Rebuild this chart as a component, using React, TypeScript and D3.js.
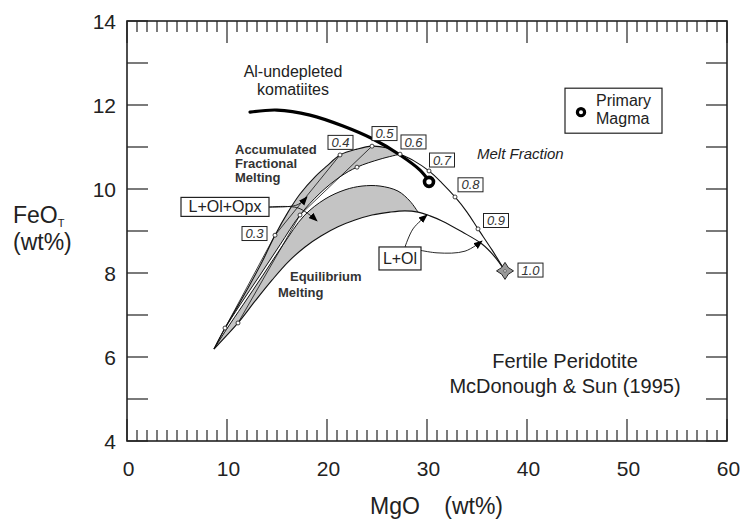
import React from "react";
import * as d3 from "d3";

// FeO(T) vs MgO melting diagram for fertile peridotite (McDonough & Sun 1995)

type Pt = [number, number];

// accumulated fractional melting: outer curve (also the labelled melt-fraction curve)
const fractionalOuter: Pt[] = [
  [8.7, 6.19], [9.8, 6.69], [10.9, 7.14], [12.0, 7.6], [13.5, 8.26], [14.8, 8.9],
  [16.1, 9.45], [17.3, 9.88], [18.8, 10.29], [20.0, 10.55], [21.3, 10.81],
  [23.0, 10.95], [24.5, 11.02], [25.9, 10.98], [27.3, 10.83], [28.7, 10.67],
  [30.2, 10.43], [31.5, 10.14], [32.8, 9.81], [34.0, 9.45], [35.1, 9.05],
  [36.5, 8.55], [37.8, 8.05],
];
// accumulated fractional melting: inner edge of the grey band
const fractionalInner: Pt[] = [
  [8.7, 6.19], [9.7, 6.64], [11.3, 7.24], [13.3, 7.95], [15.3, 8.67], [17.3, 9.38],
  [19.3, 9.9], [21.3, 10.29], [23.0, 10.52], [25.3, 10.71], [27.3, 10.83],
];
// equilibrium melting band
const equilibriumUpper: Pt[] = [
  [8.7, 6.19], [9.9, 6.64], [11.6, 7.24], [13.6, 7.95], [15.6, 8.67], [17.7, 9.36],
  [19.8, 9.76], [21.8, 9.98], [23.5, 10.07], [25.3, 10.07], [27.1, 9.95],
  [28.3, 9.71], [29.1, 9.45],
];
const equilibriumLower: Pt[] = [
  [8.7, 6.19], [11.1, 6.81], [12.8, 7.33], [14.5, 7.83], [16.1, 8.26], [17.8, 8.62],
  [19.4, 8.88], [21.1, 9.1], [22.8, 9.26], [24.5, 9.38], [26.3, 9.45], [27.8, 9.48],
  [29.1, 9.45], [30.3, 9.36], [31.5, 9.24], [33.5, 8.98], [35.5, 8.69], [36.8, 8.38],
  [37.8, 8.05],
];
// Al-undepleted komatiite trend
const komatiite: Pt[] = [
  [12.3, 11.83], [15.0, 11.88], [18.3, 11.76], [21.6, 11.5], [24.6, 11.19],
  [27.3, 10.81], [29.3, 10.45], [30.2, 10.19],
];
const primaryMagma: Pt = [30.2, 10.17];
const peridotite: Pt = [37.8, 8.05];

// melt fraction points and their boxed labels
const fractionLabels = ["0.3", "0.4", "0.5", "0.6", "0.7", "0.8", "0.9", "1.0"];
const fractionMgO = [14.8, 21.3, 24.5, 27.3, 30.2, 32.8, 35.1, 37.8];
const fractionFeO = [8.9, 10.81, 11.02, 10.83, 10.43, 9.81, 9.05, 8.05];
const fractionBoxMgO = [12.75, 21.35, 25.75, 28.65, 31.5, 34.35, 36.9, 40.35];
const fractionBoxFeO = [8.94, 11.11, 11.32, 11.12, 10.69, 10.1, 9.25, 8.07];
const extraPoints: Pt[] = [[9.8, 6.69], [11.1, 6.81], [17.3, 9.38], [23.0, 10.52]];
const tieLines: [Pt, Pt][] = [
  [[9.8, 6.69], [14.8, 8.9]],
  [[14.8, 8.9], [21.3, 10.81]],
  [[11.1, 6.81], [17.3, 9.38]],
  [[17.3, 9.38], [24.5, 11.02]],
];

// phase field arrows
const arrowOpxA: Pt[] = [[14.2, 9.57], [17.0, 9.62], [18.0, 9.81]];
const arrowOpxB: Pt[] = [[14.2, 9.57], [17.1, 9.55], [19.0, 9.24]];
const arrowOlA: Pt[] = [[27.8, 8.62], [28.6, 9.05], [30.0, 9.38]];
const arrowOlB: Pt[] = [[27.8, 8.62], [31.0, 8.48], [33.8, 8.52], [35.5, 8.76]];

const xTicks = d3.range(0, 61, 1);
const yTicks = d3.range(4, 15, 1);
const yLabels = [4, 6, 8, 10, 12, 14];
const xLabels = [0, 10, 20, 30, 40, 50, 60];

const FONT = "'Liberation Sans', Arial, Helvetica, sans-serif";

export default function App() {
  const x = d3.scaleLinear().domain([0, 60]).range([127, 727]);
  const y = d3.scaleLinear().domain([4, 14]).range([441, 21]);

  const smooth = d3.line<Pt>().x(d => x(d[0])).y(d => y(d[1])).curve(d3.curveCatmullRom.alpha(0.5));
  const straight = d3.line<Pt>().x(d => x(d[0])).y(d => y(d[1]));

  const band = (a: Pt[], b: Pt[]) => {
    const p1 = smooth(a) as string;
    const p2 = smooth([...b].reverse()) as string;
    return p1 + "L" + p2.slice(1) + "Z";
  };
  const outerCut = fractionalOuter.slice(0, fractionalOuter.findIndex(d => d[0] === 27.3) + 1);
  const lowerCut = equilibriumLower.slice(0, equilibriumLower.findIndex(d => d[0] === 29.1) + 1);

  const x0 = x(0), x1 = x(60), y0 = y(4), y1 = y(14);

  const star = (cx: number, cy: number, r: number) => {
    const k = r * 0.28;
    return `M${cx},${cy - r}Q${cx + k},${cy - k} ${cx + r},${cy}Q${cx + k},${cy + k} ${cx},${cy + r}` +
      `Q${cx - k},${cy + k} ${cx - r},${cy}Q${cx - k},${cy - k} ${cx},${cy - r}Z`;
  };

  return (
    <svg width={742} height={522} style={{ position: "absolute", left: 0, top: 0, background: "#fff" }}
      fontFamily={FONT}>
      <defs>
        <marker id="arr" viewBox="0 0 10 10" refX="9" refY="5" markerWidth="9" markerHeight="9"
          markerUnits="userSpaceOnUse" orient="auto">
          <path d="M0,1 L10,5 L0,9 Z" fill="#000" />
        </marker>
      </defs>

      {/* grey bands */}
      <path d={band(outerCut, fractionalInner)} fill="#c4c4c4" stroke="none" />
      <path d={band(equilibriumUpper, lowerCut)} fill="#c4c4c4" stroke="none" />

      {/* curves */}
      <path d={smooth(fractionalOuter) as string} fill="none" stroke="#111" strokeWidth={1.1} />
      <path d={smooth(fractionalInner) as string} fill="none" stroke="#111" strokeWidth={1} />
      <path d={smooth(equilibriumUpper) as string} fill="none" stroke="#111" strokeWidth={1} />
      <path d={smooth(equilibriumLower) as string} fill="none" stroke="#111" strokeWidth={1.1} />
      {tieLines.map((t, i) => (
        <path key={i} d={straight(t) as string} fill="none" stroke="#111" strokeWidth={0.8} />
      ))}
      <path d={smooth(komatiite) as string} fill="none" stroke="#000" strokeWidth={3.2} strokeLinecap="round" />

      {/* small markers */}
      {fractionMgO.slice(0, 7).map((m, i) => (
        <circle key={"f" + i} cx={x(m)} cy={y(fractionFeO[i])} r={2} fill="#fff" stroke="#111" strokeWidth={0.8} />
      ))}
      {extraPoints.map((p, i) => (
        <circle key={"e" + i} cx={x(p[0])} cy={y(p[1])} r={2} fill="#fff" stroke="#111" strokeWidth={0.8} />
      ))}

      {/* primary magma and source */}
      <circle cx={x(primaryMagma[0])} cy={y(primaryMagma[1])} r={4.5} fill="#fff" stroke="#000" strokeWidth={3.6} />
      <path d={star(x(peridotite[0]), y(peridotite[1]), 8.5)} fill="#9a9a9a" stroke="#222" strokeWidth={1} />
      <circle cx={x(peridotite[0])} cy={y(peridotite[1])} r={1.3} fill="#fff" stroke="#222" strokeWidth={0.6} />

      {/* melt fraction boxes */}
      {fractionLabels.map((lab, i) => {
        const cx = x(fractionBoxMgO[i]), cy = y(fractionBoxFeO[i]);
        return (
          <g key={lab}>
            <rect x={cx - 12.5} y={cy - 7} width={25} height={14} fill="#fff" stroke="#222" strokeWidth={1} />
            <text x={cx} y={cy + 4.6} textAnchor="middle" fontSize={13} fontStyle="italic" fill="#333">{lab}</text>
          </g>
        );
      })}

      {/* arrows */}
      {[arrowOpxA, arrowOpxB, arrowOlA, arrowOlB].map((a, i) => (
        <path key={"a" + i} d={smooth(a) as string} fill="none" stroke="#111" strokeWidth={0.9} markerEnd="url(#arr)" />
      ))}

      {/* phase boxes */}
      <rect x={x(5.4)} y={y(9.8)} width={88} height={19} fill="#fff" stroke="#222" strokeWidth={1.2} />
      <text x={x(9.8)} y={y(9.58) + 5.8} textAnchor="middle" fontSize={16} fill="#222">L+Ol+Opx</text>
      <rect x={x(25.2)} y={y(8.62)} width={42} height={23} fill="#fff" stroke="#222" strokeWidth={1.2} />
      <text x={x(27.3)} y={y(8.35) + 5.8} textAnchor="middle" fontSize={16} fill="#222">L+Ol</text>

      {/* annotations */}
      <text x={x(16.6)} y={y(12.67)} textAnchor="middle" fontSize={16} fill="#222">Al-undepleted</text>
      <text x={x(16.6)} y={y(12.24)} textAnchor="middle" fontSize={16} fill="#222">komatiites</text>
      <g fontSize={13} fontWeight="bold" fill="#333">
        <text x={x(10.8)} y={y(10.83)}>Accumulated</text>
        <text x={x(10.8)} y={y(10.5)}>Fractional</text>
        <text x={x(10.8)} y={y(10.17)}>Melting</text>
        <text x={x(16.3)} y={y(7.81)}>Equilibrium</text>
        <text x={x(15.1)} y={y(7.43)}>Melting</text>
      </g>
      <text x={x(35.0)} y={y(10.71)} fontSize={15} fontStyle="italic" fill="#222">Melt Fraction</text>

      {/* legend */}
      <rect x={x(43.8)} y={y(12.4)} width={97} height={45} fill="#fff" stroke="#222" strokeWidth={1.2} />
      <circle cx={x(45.4)} cy={y(11.83)} r={3.6} fill="#fff" stroke="#000" strokeWidth={3.2} />
      <text x={x(46.9)} y={y(11.98)} fontSize={16} fill="#222">Primary</text>
      <text x={x(46.9)} y={y(11.55)} fontSize={16} fill="#222">Magma</text>

      <text x={x(43.8)} y={y(5.74)} textAnchor="middle" fontSize={20} fill="#222">Fertile Peridotite</text>
      <text x={x(43.8)} y={y(5.14)} textAnchor="middle" fontSize={20} fill="#222">McDonough &amp; Sun (1995)</text>

      {/* frame and ticks */}
      <rect x={x0} y={y1} width={x1 - x0} height={y0 - y1} fill="none" stroke="#222" strokeWidth={1.6} />
      {xTicks.map(t => {
        const len = t % 10 === 0 ? 22 : 11;
        return (
          <g key={"xt" + t} stroke="#222" strokeWidth={1.2}>
            <line x1={x(t)} x2={x(t)} y1={y0} y2={y0 - len} />
            <line x1={x(t)} x2={x(t)} y1={y1} y2={y1 + len} />
          </g>
        );
      })}
      {yTicks.map(t => (
        <g key={"yt" + t} stroke="#222" strokeWidth={1.2}>
          <line x1={x0} x2={x0 + 21} y1={y(t)} y2={y(t)} />
          <line x1={x1} x2={x1 - 21} y1={y(t)} y2={y(t)} />
        </g>
      ))}
      {xLabels.map(t => (
        <text key={"xl" + t} x={x(t) + 1.5} y={476} textAnchor="middle" fontSize={21} fill="#222">{t}</text>
      ))}
      {yLabels.map(t => (
        <text key={"yl" + t} x={x0 - 11} y={y(t) + 7.5} textAnchor="end" fontSize={21} fill="#222">{t}</text>
      ))}

      {/* axis titles */}
      <text x={370} y={514} fontSize={23} fill="#222">MgO</text>
      <text x={503} y={514} textAnchor="end" fontSize={23} fill="#222">(wt%)</text>
      <text x={13} y={223} fontSize={23} fill="#222">FeO<tspan fontSize={11} dy={4}>T</tspan></text>
      <text x={13} y={250} fontSize={23} fill="#222">(wt%)</text>
    </svg>
  );
}
